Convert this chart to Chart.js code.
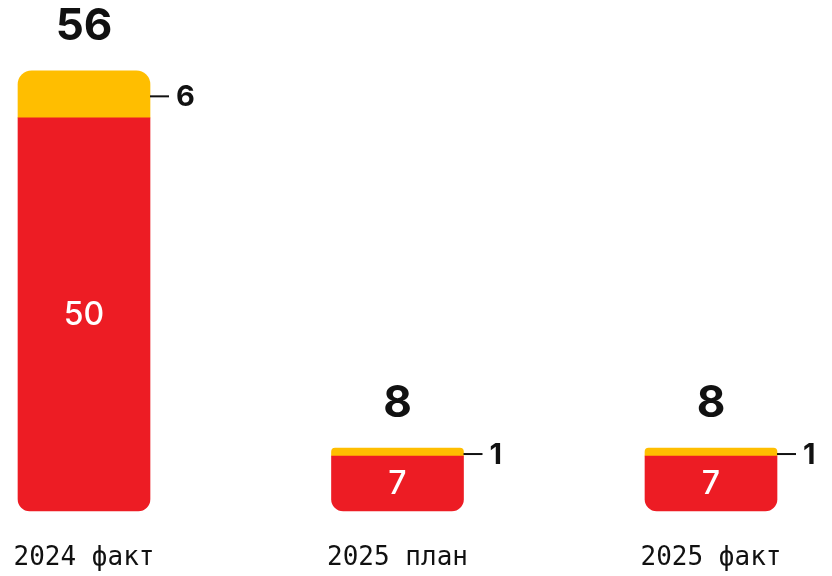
<!DOCTYPE html>
<html>
<head>
<meta charset="utf-8">
<script src="https://cdn.jsdelivr.net/npm/chart.js@4.4.1/dist/chart.umd.min.js"></script>
<style>
  html, body { margin: 0; padding: 0; background: #ffffff; }
  #wrap { width: 832px; height: 576px; position: relative; }
</style>
</head>
<body>
<div id="wrap"><canvas id="c" width="832" height="576"></canvas></div>
<script>
const categories = ['2024 факт', '2025 план', '2025 факт'];
const redValues = [50, 7, 7];
const yellowValues = [6, 1, 1];
const totals = [56, 8, 8];

const RED = '#ED1C24';
const YELLOW = '#FFBE00';

const labelPlugin = {
  id: 'labels',
  afterDatasetsDraw(chart) {
    const ctx = chart.ctx;
    const redMeta = chart.getDatasetMeta(0);
    const yelMeta = chart.getDatasetMeta(1);
    ctx.save();
    categories.forEach((c, i) => {
      const r = redMeta.data[i];
      const y = yelMeta.data[i];
      ctx.fillStyle = '#ffffff';
      ctx.font = '500 32px Inter, Roboto, sans-serif';
      ctx.textAlign = 'center';
      ctx.textBaseline = 'middle';
      ctx.fillText(String(redValues[i]), r.x, (r.y + r.base) / 2 + 1);
      ctx.fillStyle = '#111111';
      ctx.font = '700 44px Inter, Roboto, sans-serif';
      ctx.fillText(String(totals[i]), y.x, y.y - 44);
      const right = y.x + y.width / 2;
      const cy = (y.y + y.base) / 2 + 2;
      ctx.strokeStyle = '#111111';
      ctx.lineWidth = 2;
      ctx.beginPath();
      ctx.moveTo(right, cy);
      ctx.lineTo(right + 19, cy);
      ctx.stroke();
      ctx.font = '700 29px Inter, Roboto, sans-serif';
      ctx.textAlign = 'left';
      ctx.fillText(String(yellowValues[i]), right + 26, cy + 1);
    });
    ctx.restore();
  }
};

new Chart(document.getElementById('c'), {
  type: 'bar',
  data: {
    labels: categories,
    datasets: [
      {
        data: redValues,
        backgroundColor: RED,
        borderWidth: 0,
        borderSkipped: false,
        borderRadius: { topLeft: 0, topRight: 0, bottomLeft: 12, bottomRight: 12 },
        barThickness: 132,
        clip: false
      },
      {
        data: yellowValues,
        backgroundColor: YELLOW,
        borderWidth: 0,
        borderSkipped: false,
        borderRadius: { topLeft: 14, topRight: 14, bottomLeft: 0, bottomRight: 0 },
        barThickness: 132,
        clip: false
      }
    ]
  },
  options: {
    responsive: false,
    animation: false,
    devicePixelRatio: 1,
    layout: { padding: { left: 84, right: 121, top: 0, bottom: 0 } },
    plugins: { legend: { display: false }, tooltip: { enabled: false } },
    scales: {
      x: {
        stacked: true,
        offset: false,
        grid: { display: false, drawTicks: false },
        border: { display: false },
        afterFit(scale) {
          scale.height = 65;
          scale.paddingLeft = 0;
          scale.paddingRight = 0;
        },
        ticks: {
          padding: 32,
          maxRotation: 0,
          minRotation: 0,
          autoSkip: false,
          color: '#111111',
          font: { family: '"DejaVu Sans Mono", monospace', size: 26 }
        }
      },
      y: {
        stacked: true,
        display: false,
        min: 0,
        max: 65
      }
    }
  },
  plugins: [labelPlugin]
});
</script>
</body>
</html>
